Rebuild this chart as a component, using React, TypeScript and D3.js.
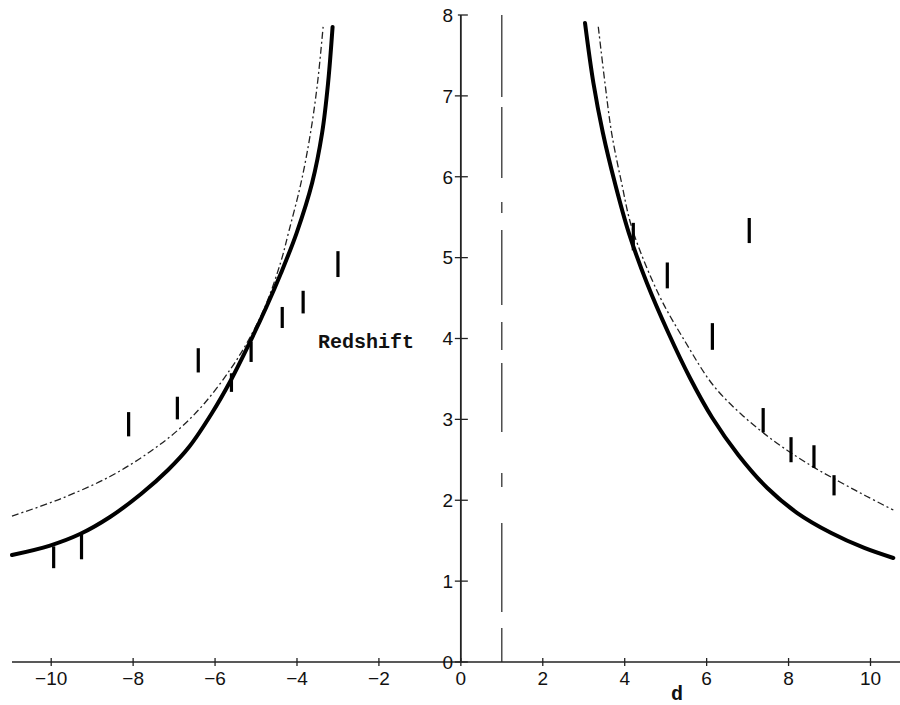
import React from 'react';
import * as d3 from 'd3';

// axis ticks
const xTicks = [-10, -8, -6, -4, -2, 0, 2, 4, 6, 8, 10];
const yTicks = [0, 1, 2, 3, 4, 5, 6, 7, 8];

// heavy solid curve (d, redshift)
const thickLeft: [number, number][] = [
  [-10.957, 1.323], [-10.029, 1.44], [-9.297, 1.582], [-8.565, 1.793], [-7.808, 2.077],
  [-7.149, 2.374], [-6.636, 2.658], [-6.075, 3.079], [-5.611, 3.487], [-5.159, 3.944],
  [-4.747, 4.39], [-4.39, 4.81], [-4.01, 5.304], [-3.631, 5.923], [-3.387, 6.541],
  [-3.241, 7.159], [-3.131, 7.852],
];
const thickRight: [number, number][] = [
  [3.031, 7.901], [3.236, 7.159], [3.468, 6.541], [3.761, 5.923], [4.102, 5.304],
  [4.542, 4.686], [5.067, 4.068], [5.594, 3.512], [6.141, 3.017], [6.773, 2.56],
  [7.481, 2.151], [8.213, 1.842], [9.043, 1.595], [9.849, 1.41], [10.557, 1.286],
];

// thin dash-dot curve
const thinLeft: [number, number][] = [
  [-10.957, 1.805], [-9.785, 2.015], [-8.565, 2.294], [-7.588, 2.6], [-6.856, 2.89],
  [-6.246, 3.206], [-5.638, 3.611], [-5.223, 3.944], [-4.783, 4.39], [-4.403, 4.934],
  [-4.19, 5.342], [-3.902, 5.923], [-3.67, 6.541], [-3.499, 7.159], [-3.358, 7.876],
];
const thinRight: [number, number][] = [
  [3.355, 7.855], [3.519, 7.155], [3.682, 6.537], [3.926, 5.919], [4.178, 5.366],
  [4.837, 4.538], [5.496, 3.944], [6.155, 3.425], [6.839, 3.066], [7.644, 2.733],
  [8.523, 2.436], [9.255, 2.226], [9.89, 2.053], [10.557, 1.879],
];

// observed points, drawn as vertical bars
const barD = [-9.94, -9.26, -8.11, -6.92, -6.41, -5.6, -5.12, -4.36, -3.85, -3.0,
  4.21, 5.04, 6.14, 7.04, 7.38, 8.06, 8.62, 9.11];
const barLo = [1.16, 1.27, 2.79, 3.0, 3.58, 3.34, 3.71, 4.13, 4.31, 4.76,
  5.09, 4.62, 3.86, 5.18, 2.84, 2.47, 2.4, 2.06];
const barHi = [1.43, 1.59, 3.09, 3.28, 3.88, 3.57, 3.96, 4.39, 4.59, 5.08,
  5.43, 4.94, 4.19, 5.49, 3.14, 2.78, 2.68, 2.31];

// dash-dot vertical at d = 1 (irregular pattern of the scan, top to bottom)
const markerD = 1;
const markerDash = '82 10 71 24 11 17 75 17 28 13 69 41 14 36 89 16 34';

export default function App() {
  const width = 900;
  const height = 705;

  const x = d3.scaleLinear().domain([-10, 10]).range([51.2, 870.5]);
  const y = d3.scaleLinear().domain([0, 8]).range([662, 15]);

  const line = d3.line<[number, number]>()
    .x(d => x(d[0]))
    .y(d => y(d[1]))
    .curve(d3.curveCatmullRom.alpha(0.5));

  const tickFont = '"Liberation Sans", Arial, sans-serif';
  const monoFont = '"Liberation Mono", "Courier New", monospace';

  return (
    <svg width={width} height={height}
      style={{ position: 'absolute', left: 0, top: 0, background: '#fff' }}>
      {/* x axis */}
      <line x1={12} x2={900} y1={y(0)} y2={y(0)} stroke="#222" strokeWidth={1.6} />
      {xTicks.map(t => (
        <g key={'x' + t}>
          <line x1={x(t)} x2={x(t)} y1={y(0) - 4} y2={y(0) + 4} stroke="#222" strokeWidth={1.3} />
          <text x={x(t)} y={685} textAnchor="middle" fontFamily={tickFont}
            fontSize={19} fill="#111">{t < 0 ? '\u2212' + Math.abs(t) : t}</text>
        </g>
      ))}

      {/* y axis */}
      <line x1={x(0)} x2={x(0)} y1={y(0)} y2={y(8)} stroke="#222" strokeWidth={1.8} />
      {yTicks.map(t => (
        <g key={'y' + t}>
          <line x1={x(0) - (t === 8 ? 3 : 6)} x2={x(0) + 7} y1={y(t)} y2={y(t)}
            stroke="#222" strokeWidth={1.3} />
          <text x={453} y={y(t)} dy="0.36em" textAnchor="end" fontFamily={tickFont}
            fontSize={19} fill="#111">{t}</text>
        </g>
      ))}

      {/* vertical dash-dot marker */}
      <line x1={x(markerD)} x2={x(markerD)} y1={y(8)} y2={y(0)} stroke="#222"
        strokeWidth={1.2} strokeDasharray={markerDash} />

      {/* curves */}
      <path d={line(thinLeft) || ''} fill="none" stroke="#222" strokeWidth={1.3}
        strokeDasharray="7 3 2 3" />
      <path d={line(thinRight) || ''} fill="none" stroke="#222" strokeWidth={1.3}
        strokeDasharray="7 3 2 3" />
      <path d={line(thickLeft) || ''} fill="none" stroke="#000" strokeWidth={4}
        strokeLinecap="round" />
      <path d={line(thickRight) || ''} fill="none" stroke="#000" strokeWidth={4}
        strokeLinecap="round" />

      {/* data bars */}
      {barD.map((d, i) => (
        <line key={'b' + i} x1={x(d)} x2={x(d)} y1={y(barLo[i])} y2={y(barHi[i])}
          stroke="#000" strokeWidth={3.2} />
      ))}

      {/* labels */}
      <text x={318} y={348} fontFamily={monoFont} fontWeight="bold" fontSize={20}
        fill="#111">Redshift</text>
      <text x={677} y={700} textAnchor="middle" fontFamily={monoFont} fontWeight="bold"
        fontSize={20} fill="#111">d</text>
    </svg>
  );
}
